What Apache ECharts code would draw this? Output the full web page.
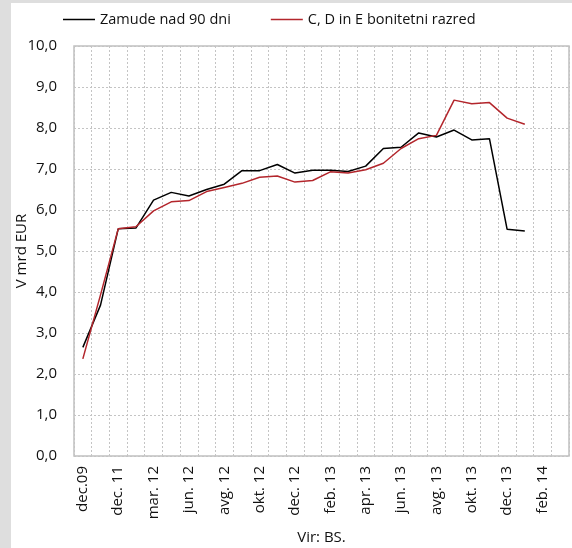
<!DOCTYPE html>
<html>
<head>
<meta charset="utf-8">
<script src="https://cdn.jsdelivr.net/npm/echarts@6/dist/echarts.min.js"></script>
<style>
  html, body { margin: 0; padding: 0; background: #dedede; }
  #chart { position: absolute; left: 11px; top: 3px; width: 561px; height: 545px; background: #fff; }
</style>
</head>
<body>
<div id="chart"></div>
<script>
// categories (only every second one is labelled on the axis)
var months = ['dec.09','dec. 10','dec. 11','jan. 12','mar. 12','apr. 12','jun. 12','jul. 12','avg. 12','sep. 12',
  'okt. 12','nov. 12','dec. 12','jan. 13','feb. 13','mar. 13','apr. 13','maj. 13','jun. 13','jul. 13',
  'avg. 13','sep. 13','okt. 13','nov. 13','dec. 13','jan. 14','feb. 14','mar. 14'];
var zamude = [2.65,3.68,5.54,5.56,6.24,6.43,6.34,6.5,6.63,6.96,6.96,7.11,6.9,6.97,6.97,6.94,7.07,7.5,7.53,7.88,7.78,7.95,7.71,7.74,5.53,5.49];
var cde = [2.37,3.93,5.54,5.59,5.98,6.2,6.23,6.45,6.55,6.65,6.8,6.83,6.68,6.72,6.93,6.9,6.98,7.14,7.5,7.74,7.82,8.68,8.59,8.62,8.24,8.09];
var seriesNames = ['Zamude nad 90 dni','C, D in E bonitetni razred'];

var chart = echarts.init(document.getElementById('chart'));
var font = 'Open Sans';
var txt = '#111';
var gridLine = { show: true, lineStyle: { color: '#c4c4c4', type: [2, 2], width: 1 } };

chart.setOption({
  animation: false,
  legend: {
    data: seriesNames,
    left: 47,
    top: 4,
    icon: 'rect',
    itemWidth: 32,
    itemHeight: 1.5,
    itemGap: 40,
    textStyle: { fontFamily: font, fontSize: 14.5, color: txt }
  },
  grid: {
    left: 63, right: 3, top: 43, bottom: 92,
    outerBoundsMode: 'none',
    containLabel: false,
    show: true, borderColor: '#c0c0c0', borderWidth: 1.5
  },
  xAxis: {
    type: 'category',
    data: months,
    boundaryGap: true,
    name: 'Vir: BS.',
    nameLocation: 'middle',
    nameGap: 74,
    nameMoveOverlap: false,
    nameTextStyle: { fontFamily: font, fontSize: 15, color: txt },
    axisLine: { show: false },
    axisTick: { show: false },
    axisLabel: { interval: 1, rotate: 90, margin: 10, fontFamily: font, fontSize: 15, color: txt },
    splitLine: Object.assign({ interval: 0 }, gridLine)
  },
  yAxis: {
    type: 'value',
    min: 0, max: 10, interval: 1,
    name: 'V mrd EUR',
    nameLocation: 'middle',
    nameGap: 45,
    nameMoveOverlap: false,
    nameTextStyle: { fontFamily: font, fontSize: 15, color: txt },
    axisLine: { show: false },
    axisTick: { show: false },
    axisLabel: {
      margin: 17, fontFamily: font, fontSize: 15, color: txt,
      formatter: function (v) { return v.toFixed(1).replace('.', ','); }
    },
    splitLine: gridLine
  },
  series: [
    { name: seriesNames[0], type: 'line', data: zamude, showSymbol: false,
      itemStyle: { color: '#000' }, lineStyle: { color: '#000', width: 1.5 } },
    { name: seriesNames[1], type: 'line', data: cde, showSymbol: false,
      itemStyle: { color: '#b3262c' }, lineStyle: { color: '#b3262c', width: 1.5 } }
  ]
});
</script>
</body>
</html>
